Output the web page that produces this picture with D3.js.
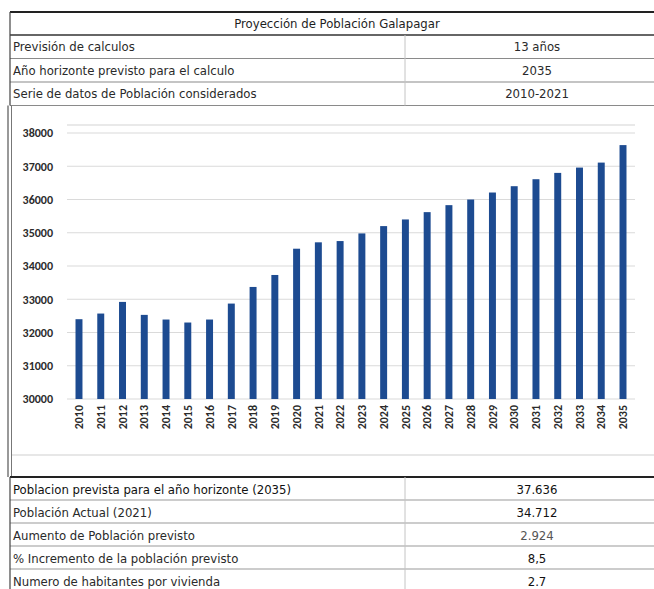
<!DOCTYPE html>
<html>
<head>
<meta charset="utf-8">
<script src="https://cdn.jsdelivr.net/npm/d3@7/dist/d3.min.js"></script>
<style>
  html, body { margin: 0; padding: 0; background: #fff; }
  svg { display: block; }
  .cell { font-family: "Liberation Sans Narrow", "Arial Narrow", "DejaVu Sans Condensed", sans-serif; font-size: 13px; fill: #2a2a2a; }
  .tick-y { font-family: Carlito, Calibri, "Liberation Sans", sans-serif; font-size: 12px; font-weight: bold; fill: #2b2b2b; }
  .tick-x { font-family: Carlito, Calibri, "Liberation Sans", sans-serif; font-size: 12px; font-weight: bold; fill: #2b2b2b; }
</style>
</head>
<body>
<svg id="chart" width="654" height="589"></svg>
<script>
// Population series for Galapagar, 2010-2035
const years = ["2010","2011","2012","2013","2014","2015","2016","2017","2018","2019","2020","2021","2022",
               "2023","2024","2025","2026","2027","2028","2029","2030","2031","2032","2033","2034","2035"];
const population = [32400, 32570, 32920, 32530, 32390, 32300, 32390, 32870, 33370, 33730, 34520, 34712, 34750,
                    34980, 35200, 35400, 35620, 35830, 36000, 36210, 36400, 36610, 36800, 36960, 37110, 37636];
const yTicks = [30000, 31000, 32000, 33000, 34000, 35000, 36000, 37000, 38000];

// Table contents
const title = "Proyección de Población Galapagar";
const headerLabels = ["Previsión de calculos", "Año horizonte previsto para el calculo", "Serie de datos de Población considerados"];
const headerValues = ["13 años", "2035", "2010-2021"];
const summaryLabels = ["Poblacion prevista para el año horizonte (2035)", "Población Actual (2021)",
                       "Aumento de Población previsto", "% Incremento de la población previsto",
                       "Numero de habitantes por vivienda"];
const summaryValues = ["37.636", "34.712", "2.924", "8,5", "2.7"];

const svg = d3.select("#chart");
const W = 654;
const leftX = 10, divX = 405, valueX = 537;

// ---- header table ----
const topY = 12, titleBottom = 35, rowH = 23.5;
svg.append("text").attr("class", "cell").attr("x", 337).attr("y", (topY + titleBottom) / 2)
  .attr("dy", "0.35em").attr("text-anchor", "middle").style("fill", "#1e1e1e").text(title);

const headerRowTop = i => titleBottom + i * rowH;
headerLabels.forEach((lab, i) => {
  const cy = headerRowTop(i) + rowH / 2;
  svg.append("text").attr("class", "cell").attr("x", 13).attr("y", cy).attr("dy", "0.35em").text(lab);
  svg.append("text").attr("class", "cell").attr("x", valueX).attr("y", cy).attr("dy", "0.35em")
    .attr("text-anchor", "middle").text(headerValues[i]);
});
const headerBottom = headerRowTop(headerLabels.length);
// row separators
for (let i = 1; i <= headerLabels.length; i++) {
  svg.append("line").attr("x1", leftX).attr("x2", W).attr("y1", headerRowTop(i)).attr("y2", headerRowTop(i))
    .attr("stroke", "#8a8a8a").attr("stroke-width", 1.2);
}
svg.append("line").attr("x1", leftX).attr("x2", W).attr("y1", topY).attr("y2", topY)
  .attr("stroke", "#222").attr("stroke-width", 2);
svg.append("line").attr("x1", leftX).attr("x2", W).attr("y1", titleBottom).attr("y2", titleBottom)
  .attr("stroke", "#333").attr("stroke-width", 1.5);
svg.append("line").attr("x1", divX).attr("x2", divX).attr("y1", titleBottom).attr("y2", headerBottom)
  .attr("stroke", "#c4c4c4").attr("stroke-width", 1);

// ---- chart ----
const x = d3.scaleBand().domain(years).range([68, 634]).paddingInner(0.68).paddingOuter(0.345);
const y = d3.scaleLinear().domain([30000, 38000]).range([399, 133]);

const plot = svg.append("g");
// frame line at top of plot area
plot.append("line").attr("x1", 67).attr("x2", 635).attr("y1", 125).attr("y2", 125)
  .attr("stroke", "#d4d4d4").attr("stroke-width", 1.2);
// horizontal gridlines
plot.append("g").selectAll("line").data(yTicks).join("line")
  .attr("x1", 67).attr("x2", 635)
  .attr("y1", d => y(d)).attr("y2", d => y(d))
  .attr("stroke", "#dadada").attr("stroke-width", 1.2);

// y axis labels
const yAxis = d3.axisLeft(y).tickValues(yTicks).tickSize(0).tickPadding(0).tickFormat(d3.format("d"));
const yg = svg.append("g").attr("transform", "translate(53,0)").call(yAxis);
yg.select(".domain").remove();
yg.attr("font-family", null).attr("font-size", null);
yg.selectAll("text").attr("class", "tick-y").attr("fill", null);

// bars
plot.append("g").selectAll("rect").data(years).join("rect")
  .attr("x", d => x(d))
  .attr("width", x.bandwidth())
  .attr("y", (d, i) => y(population[i]))
  .attr("height", (d, i) => y(30000) - y(population[i]))
  .attr("fill", "#1d4b91");

// x axis labels, rotated
const xAxis = d3.axisBottom(x).tickSize(0).tickPadding(0);
const xg = svg.append("g").attr("transform", "translate(0,405)").call(xAxis);
xg.select(".domain").remove();
xg.attr("font-family", null).attr("font-size", null);
xg.selectAll("text").attr("class", "tick-x").attr("fill", null)
  .attr("y", 0).attr("x", 0).attr("dy", "0.35em")
  .attr("transform", "rotate(-90)").attr("text-anchor", "end");

// chart object borders
svg.append("line").attr("x1", 8).attr("x2", 8).attr("y1", headerBottom).attr("y2", 477)
  .attr("stroke", "#555").attr("stroke-width", 1.2);
svg.append("line").attr("x1", 11.5).attr("x2", 11.5).attr("y1", headerBottom).attr("y2", 477)
  .attr("stroke", "#777").attr("stroke-width", 1);
svg.append("line").attr("x1", 12).attr("x2", W).attr("y1", 455).attr("y2", 455)
  .attr("stroke", "#d0d0d0").attr("stroke-width", 1.2);

// ---- summary table ----
const sumTop = 477, sumRowH = 23;
svg.append("line").attr("x1", leftX).attr("x2", W).attr("y1", sumTop).attr("y2", sumTop)
  .attr("stroke", "#222").attr("stroke-width", 2);
summaryLabels.forEach((lab, i) => {
  const cy = sumTop + i * sumRowH + sumRowH / 2 + 1;
  svg.append("text").attr("class", "cell").attr("x", 13).attr("y", cy).attr("dy", "0.35em")
    .style("fill", i === 0 ? "#111" : null).text(lab);
  svg.append("text").attr("class", "cell").attr("x", valueX).attr("y", cy).attr("dy", "0.35em")
    .attr("text-anchor", "middle").style("fill", i === 2 ? "#555" : "#111").text(summaryValues[i]);
  if (i > 0) {
    const ly = sumTop + i * sumRowH;
    svg.append("line").attr("x1", leftX).attr("x2", W).attr("y1", ly).attr("y2", ly)
      .attr("stroke", "#9a9a9a").attr("stroke-width", 1.2);
  }
});
svg.append("line").attr("x1", divX).attr("x2", divX).attr("y1", sumTop).attr("y2", 589)
  .attr("stroke", "#c4c4c4").attr("stroke-width", 1);
svg.append("line").attr("x1", leftX).attr("x2", leftX).attr("y1", sumTop).attr("y2", 589)
  .attr("stroke", "#444").attr("stroke-width", 1.2);
svg.append("line").attr("x1", leftX).attr("x2", leftX).attr("y1", topY).attr("y2", headerBottom)
  .attr("stroke", "#444").attr("stroke-width", 1.2);
</script>
</body>
</html>
